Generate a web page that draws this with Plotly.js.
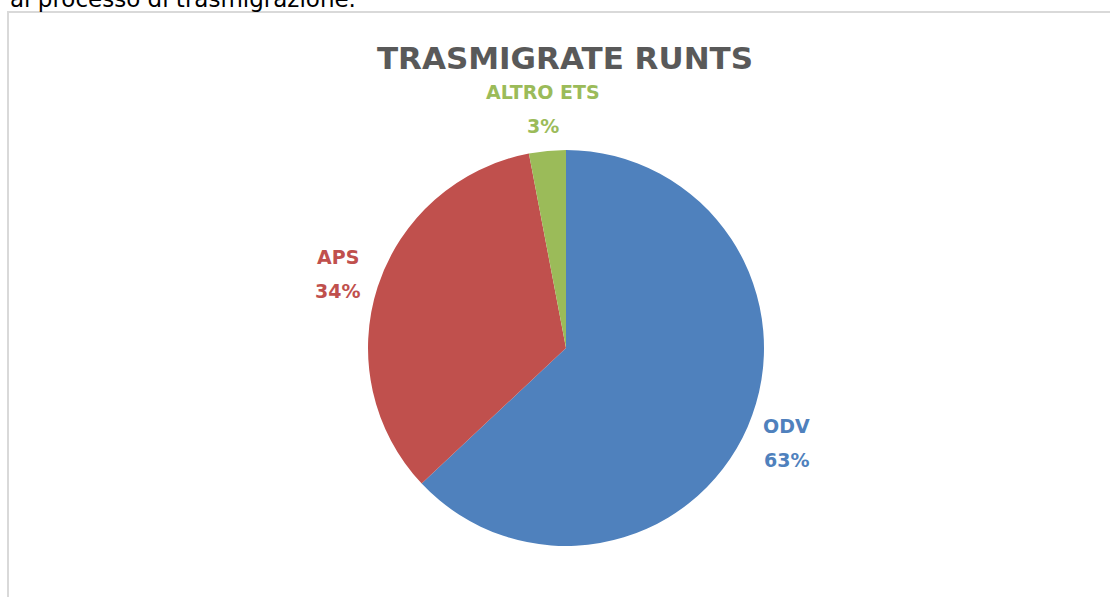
<!DOCTYPE html>
<html>
<head>
<meta charset="utf-8">
<script src="https://cdn.plot.ly/plotly-3.0.1.min.js"></script>
<style>html,body{margin:0;padding:0;background:#fff;overflow:hidden}#chart{width:1110px;height:597px}</style>
</head>
<body>
<div id="chart"></div>
<script>
const categories = ["ODV", "APS", "ALTRO ETS"];
const values = [63, 34, 3];
const colors = ["#4F81BD", "#C0504D", "#9BBB59"];
const chartTitle = "TRASMIGRATE RUNTS";
const topText = "al processo di trasmigrazione.";

const W = 1110, H = 597;
const cx = 566, cy = 348, R = 198;   // pie centre/radius in px
const labelR = 240;
const labelFont = "DejaVu Sans";

const total = values.reduce((a, b) => a + b, 0);
const annotations = [];
let acc = 0;
values.forEach((v, i) => {
  const mid = (acc + v / 2) / total * 2 * Math.PI;
  acc += v;
  const lx = cx + Math.sin(mid) * labelR;
  const ly = cy - Math.cos(mid) * labelR;
  const pct = Math.round(v / total * 100) + "%";
  annotations.push({
    xref: "paper", yref: "paper", x: lx / W, y: 1 - (ly - 17) / H,
    xanchor: "center", yanchor: "middle", showarrow: false,
    text: "<b>" + categories[i] + "</b>",
    font: {family: labelFont, size: 19, color: colors[i]}
  });
  annotations.push({
    xref: "paper", yref: "paper", x: lx / W, y: 1 - (ly + 17) / H,
    xanchor: "center", yanchor: "middle", showarrow: false,
    text: "<b>" + pct + "</b>",
    font: {family: labelFont, size: 19, color: colors[i]}
  });
});
annotations.push({
  xref: "paper", yref: "paper", x: 8 / W, y: 1 + 1 / H,
  xanchor: "left", yanchor: "middle", showarrow: false,
  text: topText,
  font: {family: "DejaVu Sans", size: 23, color: "#000"}
});

const data = [{
  type: "pie",
  labels: categories,
  values: values,
  sort: false,
  direction: "clockwise",
  rotation: 0,
  textinfo: "none",
  hoverinfo: "label+percent",
  marker: {colors: colors, line: {width: 0}},
  domain: {x: [(cx - R) / W, (cx + R) / W], y: [1 - (cy + R) / H, 1 - (cy - R) / H]}
}];

const layout = {
  width: W, height: H,
  margin: {l: 0, r: 0, t: 0, b: 0},
  paper_bgcolor: "#fff",
  showlegend: false,
  title: {
    text: "<b>" + chartTitle + "</b>",
    x: 565 / W, xanchor: "center", xref: "paper",
    y: 1 - 58 / H, yanchor: "middle", yref: "paper",
    font: {family: "DejaVu Sans", size: 31, color: "#595959"}
  },
  shapes: [{
    type: "rect", xref: "paper", yref: "paper",
    x0: 8 / W, x1: 1.05, y0: -0.05, y1: 1 - 12 / H,
    line: {color: "#D9D9D9", width: 2}, fillcolor: "rgba(0,0,0,0)"
  }],
  annotations: annotations
};

Plotly.newPlot("chart", data, layout, {displayModeBar: false, staticPlot: true});
</script>
</body>
</html>
